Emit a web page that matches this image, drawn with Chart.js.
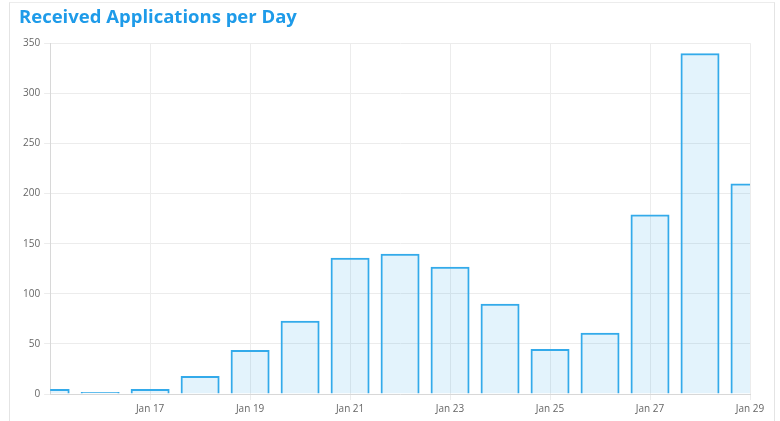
<!DOCTYPE html>
<html>
<head>
<meta charset="utf-8">
<script src="https://cdn.jsdelivr.net/npm/chart.js@4.4.1/dist/chart.umd.min.js"></script>
<style>
  html, body { margin: 0; padding: 0; background: #fff; }
  .card {
    position: absolute; left: 9px; top: 2px; width: 766px; height: 421px;
    border-left: 1px solid #e4e4e4; border-right: 1px solid #e4e4e4; border-top: 1px solid #ececec;
    box-sizing: border-box;
  }
  .card canvas { display: block; }
</style>
</head>
<body>
<div class="card">
  <canvas id="appChart" width="764" height="419"></canvas>
</div>
<script>
/********************** DATA ************************/
// day of January for each bar
const days = [15, 16, 17, 18, 19, 20, 21, 22, 23, 24, 25, 26, 27, 28, 29];
const applications = [5, 2, 5, 18, 44, 73, 136, 140, 127, 90, 45, 61, 179, 340, 210];
const tickDays = [17, 19, 21, 23, 25, 27, 29];
const yTicks = [0, 50, 100, 150, 200, 250, 300, 350];
const monthLabel = 'Jan';

/********************** CHART ***********************/
const ctx = document.getElementById('appChart');

new Chart(ctx, {
  type: 'bar',
  data: {
    datasets: [{
      label: 'Applications',
      data: days.map((d, i) => ({ x: d, y: applications[i] })),
      borderColor: '#33aaea',
      backgroundColor: 'rgba(54,169,236,0.14)',
      borderWidth: 2,
      barPercentage: 0.78,
      categoryPercentage: 1,
      clip: 0
    }]
  },
  options: {
    responsive: false,
    animation: false,
    layout: { padding: { left: 9, right: 24, top: 0, bottom: 4 } },
    plugins: {
      legend: { display: false },
      tooltip: { enabled: false },
      title: {
        display: true,
        text: 'Received Applications per Day',
        align: 'start',
        color: '#1e9be9',
        font: { family: 'Open Sans', size: 18.5, weight: 'bold' },
        padding: { top: 4, bottom: 14 }
      }
    },
    scales: {
      x: {
        type: 'linear',
        min: days[0],
        max: days[days.length - 1],
        offset: false,
        afterBuildTicks: scale => {
          scale.ticks = tickDays.map(v => ({ value: v }));
        },
        ticks: {
          color: '#666',
          font: { family: 'Open Sans', size: 10 },
          maxRotation: 0,
          autoSkip: false,
          callback: v => monthLabel + ' ' + v
        },
        grid: { color: '#ececec', tickLength: 6, offset: false },
        border: { color: '#d8d8d8' }
      },
      y: {
        min: 0,
        max: 350,
        afterBuildTicks: scale => {
          scale.ticks = yTicks.map(v => ({ value: v }));
        },
        ticks: {
          color: '#666',
          font: { family: 'Open Sans', size: 10 },
          padding: 4
        },
        grid: { color: '#ececec', tickLength: 6 },
        border: { color: '#d8d8d8' }
      }
    }
  }
});
</script>
</body>
</html>
